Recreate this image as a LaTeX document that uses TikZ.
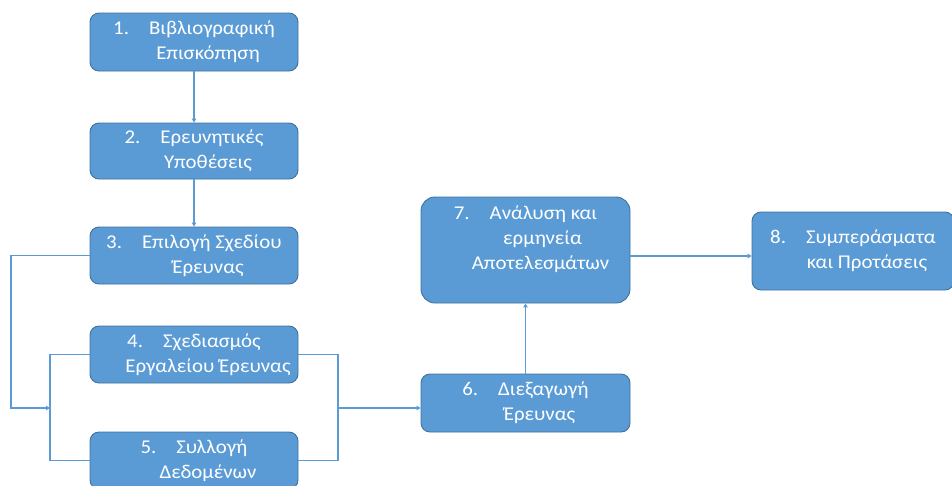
\documentclass[tikz,border=0pt]{standalone}
\usepackage{fontspec}
\setmainfont{Carlito}[FakeStretch=1.07]
\usetikzlibrary{arrows.meta}
\definecolor{boxfill}{HTML}{5B9BD5}
\definecolor{boxline}{HTML}{41719C}
\definecolor{wire}{HTML}{5B9BD5}
\newcommand\steptext[3]{#1\hspace{20pt}#2\\\hspace*{28pt}#3}
\tikzset{
  stepbox/.style={draw=boxline, line width=0.9pt, fill=boxfill, rounded corners=9pt,
    text=white, align=center, inner sep=0pt,
    font=\fontsize{19.5}{25}\selectfont},
  wireline/.style={draw=wire, line width=1.1pt},
  wirearrow/.style={wireline, -{Triangle[length=4pt,width=4.5pt]}}
}
\begin{document}
\begin{tikzpicture}[x=1pt,y=-1pt]
\useasboundingbox (0,0) rectangle (952,485);
\node[stepbox, minimum width=208pt, minimum height=58pt] (s1) at (194,42)
  {\steptext{1.}{Βιβλιογραφική}{Επισκόπηση}};
\node[stepbox, minimum width=208pt, minimum height=56pt] (s2) at (194,151)
  {\steptext{2.}{Ερευνητικές}{Υποθέσεις}};
\node[stepbox, minimum width=208pt, minimum height=57pt] (s3) at (194,255.5)
  {\steptext{3.}{Επιλογή Σχεδίου}{Έρευνας}};
\node[stepbox, minimum width=208pt, minimum height=57pt] (s4) at (194,354.5)
  {\steptext{4.}{Σχεδιασμός}{Εργαλείου Έρευνας}};
\node[stepbox, minimum width=208pt, minimum height=57pt] (s5) at (194,460.5)
  {\steptext{5.}{Συλλογή}{Δεδομένων}};
\node[stepbox, minimum width=209pt, minimum height=58pt] (s6) at (525.5,403)
  {\steptext{6.}{Διεξαγωγή}{Έρευνας}};
\node[stepbox, rounded corners=14pt, minimum width=209pt, minimum height=106pt] (s7) at (525.5,250)
  {7.\hspace{20pt}Ανάλυση και\\\hspace*{34pt}ερμηνεία\\\hspace*{30pt}Αποτελεσμάτων\\\mbox{}};
\node[stepbox, minimum width=202pt, minimum height=78pt] (s8) at (853,251)
  {\steptext{8.}{Συμπεράσματα}{και Προτάσεις}};
% vertical chain
\draw[wirearrow] (s1.south) -- (s2.north);
\draw[wirearrow] (s2.south) -- (s3.north);
% bracket joining steps 4 and 5 on both sides
\coordinate (lj) at (50,408);
\coordinate (rj) at (338,408);
\draw[wireline] (s4.west) -| (lj) |- (s5.west);
\draw[wireline] (s4.east) -| (rj) |- (s5.east);
\draw[wirearrow] (s3.west) -| (11,408) -- (lj);
\draw[wirearrow] (rj) -- (s6.west |- rj);
\draw[wirearrow] (s6.north) -- (s7.south);
\draw[wirearrow] (s7.east |- 0,256) -- (s8.west |- 0,256);
\end{tikzpicture}
\end{document}
